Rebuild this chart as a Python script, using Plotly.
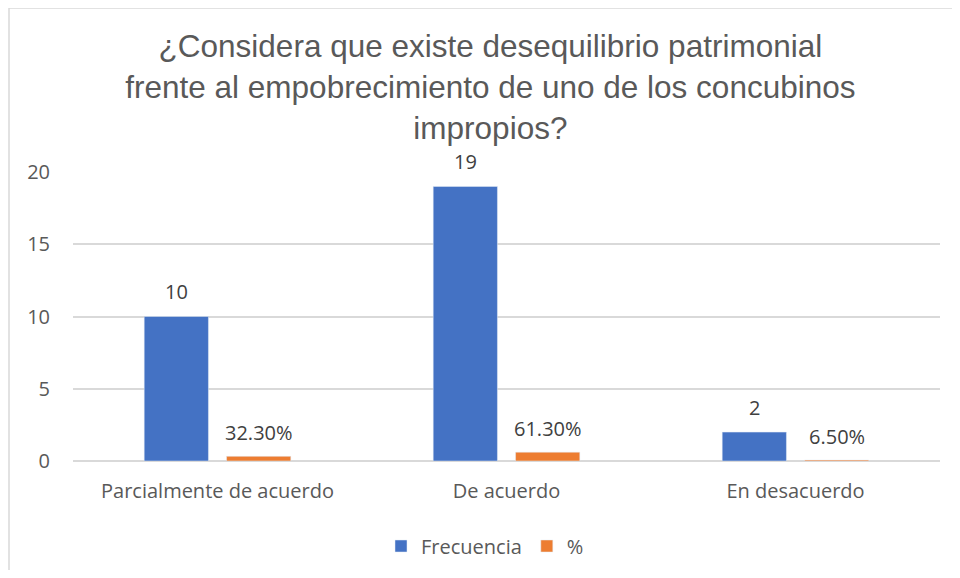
import plotly.graph_objects as go

categories = ["Parcialmente de acuerdo", "De acuerdo", "En desacuerdo"]
frecuencia = [10, 19, 2]
porcentaje = [0.323, 0.613, 0.065]

BLUE = "#4472C4"
ORANGE = "#ED7D31"
TXT = "#404040"
GREY = "#595959"
FONT = "Open Sans, Lato, Liberation Sans, sans-serif"

fig = go.Figure()
fig.add_trace(go.Bar(x=categories, y=frecuencia, name="Frecuencia", marker_color=BLUE))
fig.add_trace(go.Bar(x=categories, y=porcentaje, name="%", marker_color=ORANGE))

# page has an 8px body margin; plot area sits at page x 73..940, y 172..461
W, H = 944, 562
pw, ph = 867, 289
def px_x(x):
    return (x - 73) / pw
def px_y(y):
    return (461 - y) / ph

# data labels above each bar (blue left of centre, orange right)
for cat, f, p in zip(categories, frecuencia, porcentaje):
    fig.add_annotation(x=cat, y=f, text=str(f), showarrow=False, xshift=-41, yshift=25,
                       yanchor="middle", font=dict(size=20, color=TXT, family=FONT))
    fig.add_annotation(x=cat, y=p, text=f"{p*100:.2f}%", showarrow=False, xshift=41, yshift=24,
                       yanchor="middle", font=dict(size=20, color=TXT, family=FONT))

fig.update_layout(
    width=W, height=H,
    margin=dict(l=65, r=12, t=164, b=109),
    paper_bgcolor="white", plot_bgcolor="white",
    barmode="group", bargap=0.43, bargroupgap=0.22,
    title=dict(
        text="¿Considera que existe desequilibrio patrimonial<br>frente al empobrecimiento de uno de los concubinos<br>impropios?",
        x=0.511, xanchor="center", y=0.913, yanchor="top",
        font=dict(family="Liberation Sans, Arial, sans-serif", size=31.5, color=GREY),
    ),
    font=dict(family=FONT, size=20, color=TXT),
    xaxis=dict(showline=False, ticks="", ticklabelstandoff=16, automargin=False,
               tickfont=dict(size=20, color=GREY)),
    yaxis=dict(range=[0, 20], dtick=5, gridcolor="#D9D9D9", gridwidth=1.5,
               zeroline=True, zerolinecolor="#D9D9D9", zerolinewidth=1.5,
               showline=False, ticks="", ticklabelstandoff=22, automargin=False,
               tickfont=dict(size=20, color=GREY)),
    legend=dict(orientation="h", x=px_x(485), xanchor="center",
                yref="container", y=1 - (546 - 8) / H, yanchor="middle",
                font=dict(size=20, color=GREY), itemwidth=30, traceorder="normal"),
    shapes=[dict(type="rect", xref="paper", yref="paper",
                 x0=px_x(9), x1=px_x(975), y0=px_y(600), y1=px_y(8),
                 line=dict(color="#D9D9D9", width=1.5), fillcolor="rgba(0,0,0,0)", layer="below")],
)

fig.write_html("out.html")
